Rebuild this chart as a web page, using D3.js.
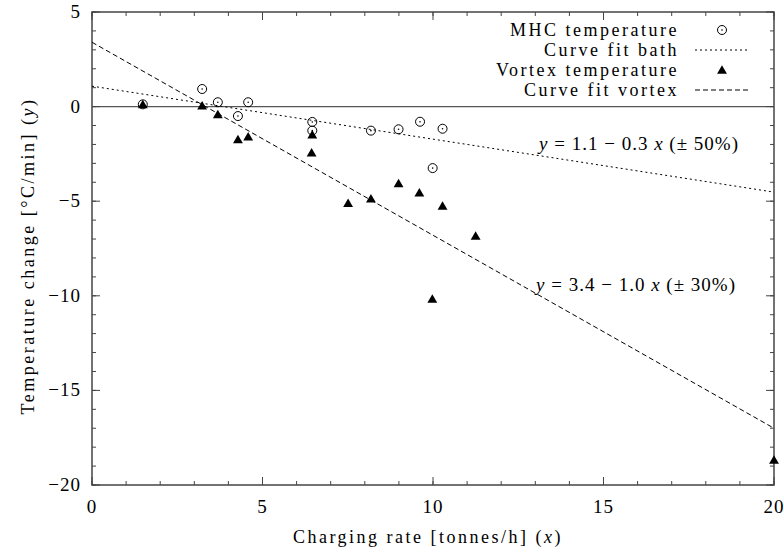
<!DOCTYPE html>
<html>
<head>
    <meta charset="UTF-8">
    <title>Temperature change vs charging rate</title>
    <script src="https://cdn.jsdelivr.net/npm/d3@7/dist/d3.min.js"></script>
    <style>
        body { margin: 0; background: #fff; }
        text { font-family: "Liberation Serif", "DejaVu Serif", serif; fill: #000; }
    </style>
</head>
<body>
<script>
    // MHC (bath) temperature readings
    var mhcX = [1.49, 3.23, 3.69, 4.28, 4.58, 6.46, 6.46, 8.18, 8.99, 9.62, 9.99, 10.28];
    var mhcY = [0.12, 0.93, 0.23, -0.5, 0.23, -0.81, -1.27, -1.27, -1.2, -0.8, -3.25, -1.17];

    // vortex temperature readings
    var vortexX = [1.49, 3.23, 3.69, 4.28, 4.58, 6.46, 6.44, 7.51, 8.18, 8.99, 9.6, 9.98, 10.28, 11.25, 20];
    var vortexY = [0.12, 0.05, -0.41, -1.73, -1.59, -1.48, -2.43, -5.11, -4.87, -4.06, -4.55, -10.17, -5.25, -6.84, -18.68];

    // fitted lines: y = a + b x
    var bathFit = [1.08, -0.28];
    var vortexFit = [3.4, -1.02];

    var xTicks = [0, 5, 10, 15, 20];
    var yTicks = [5, 0, -5, -10, -15, -20];

    var w = 784, h = 552;
    var margin = {top: 12, right: 10, bottom: 67, left: 92};
    var iw = w - margin.left - margin.right;
    var ih = h - margin.top - margin.bottom;

    var svg = d3.select("body").append("svg")
            .attr("width", w)
            .attr("height", h);

    var g = svg.append("g")
            .attr("transform", "translate(" + margin.left + "," + margin.top + ")");

    var x = d3.scaleLinear().domain([0, 20]).range([0, iw]);
    var y = d3.scaleLinear().domain([-20, 5]).range([ih, 0]);

    var axisColor = "#444";

    // zero line
    g.append("line")
            .attr("x1", 0).attr("x2", iw)
            .attr("y1", y(0)).attr("y2", y(0))
            .attr("stroke", "#555").attr("stroke-width", 1.2);

    // ticks on all four sides, pointing inward
    function ticks(values, len) {
        values.forEach(function (v) {
            g.append("line").attr("x1", x(v)).attr("x2", x(v)).attr("y1", ih).attr("y2", ih - len)
                    .attr("stroke", axisColor);
            g.append("line").attr("x1", x(v)).attr("x2", x(v)).attr("y1", 0).attr("y2", len)
                    .attr("stroke", axisColor);
        });
    }
    function yticks(values, len) {
        values.forEach(function (v) {
            g.append("line").attr("y1", y(v)).attr("y2", y(v)).attr("x1", 0).attr("x2", len)
                    .attr("stroke", axisColor);
            g.append("line").attr("y1", y(v)).attr("y2", y(v)).attr("x1", iw).attr("x2", iw - len)
                    .attr("stroke", axisColor);
        });
    }
    ticks(d3.range(0, 21, 1), 4);
    ticks(xTicks, 8);
    yticks(d3.range(-20, 6, 1), 4);
    yticks(yTicks, 8);

    // border
    g.append("rect")
            .attr("width", iw).attr("height", ih)
            .attr("fill", "none")
            .attr("stroke", axisColor).attr("stroke-width", 1.5);

    // tick labels
    g.selectAll(".xl").data(xTicks).enter().append("text")
            .attr("x", function (d) { return x(d); })
            .attr("y", ih + 28)
            .attr("text-anchor", "middle")
            .attr("font-size", 19)
            .attr("letter-spacing", 1)
            .text(function (d) { return d; });

    g.selectAll(".yl").data(yTicks).enter().append("text")
            .attr("x", -11)
            .attr("y", function (d) { return y(d) + 6; })
            .attr("text-anchor", "end")
            .attr("font-size", 19)
            .attr("letter-spacing", 1)
            .text(function (d) { return d < 0 ? "\u2212" + Math.abs(d) : d; });

    // axis titles
    var xt = svg.append("text")
            .attr("x", 428)
            .attr("y", h - 9)
            .attr("text-anchor", "middle")
            .attr("font-size", 18)
            .attr("letter-spacing", 2.5);
    xt.append("tspan").text("Charging rate [tonnes/h] (");
    xt.append("tspan").attr("font-style", "italic").text("x");
    xt.append("tspan").text(")");

    var yt = svg.append("text")
            .attr("transform", "translate(34,256) rotate(-90)")
            .attr("text-anchor", "middle")
            .attr("font-size", 18)
            .attr("letter-spacing", 2.5);
    yt.append("tspan").text("Temperature change [\u00B0C/min] (");
    yt.append("tspan").attr("font-style", "italic").text("y");
    yt.append("tspan").text(")");

    // fit lines
    function fitLine(p, dash) {
        g.append("line")
                .attr("x1", x(0)).attr("y1", y(p[0]))
                .attr("x2", x(20)).attr("y2", y(p[0] + p[1] * 20))
                .attr("stroke", "#000").attr("stroke-width", 1)
                .attr("stroke-dasharray", dash);
    }
    fitLine(bathFit, "2,3");
    fitLine(vortexFit, "5,3");

    // markers
    var tri = d3.symbol().type(d3.symbolTriangle).size(42);

    function circleMark(sel, cx, cy) {
        sel.append("circle").attr("cx", cx).attr("cy", cy).attr("r", 4.5)
                .attr("fill", "none").attr("stroke", "#000").attr("stroke-width", 1);
        sel.append("circle").attr("cx", cx).attr("cy", cy).attr("r", 0.8)
                .attr("fill", "#000");
    }

    mhcX.forEach(function (d, i) {
        circleMark(g, x(d), y(mhcY[i]));
    });

    g.selectAll(".vt").data(vortexX).enter().append("path")
            .attr("d", tri)
            .attr("transform", function (d, i) {
                return "translate(" + x(d) + "," + (y(vortexY[i]) + 1) + ")";
            })
            .attr("fill", "#000");

    // fit equations
    function equation(tx, ty, a, b, err) {
        var t = svg.append("text")
                .attr("x", tx).attr("y", ty)
                .attr("text-anchor", "end")
                .attr("font-size", 19)
                .attr("letter-spacing", 1);
        t.append("tspan").attr("font-style", "italic").text("y");
        t.append("tspan").text(" = " + a + " \u2212 " + b + " ");
        t.append("tspan").attr("font-style", "italic").text("x");
        t.append("tspan").text(" (\u00B1 " + err + "%)");
    }
    equation(739, 150, "1.1", "0.3", 50);
    equation(736, 291, "3.4", "1.0", 30);

    // legend
    var legend = [
        {label: "MHC temperature", kind: "circle"},
        {label: "Curve fit bath", kind: "dot"},
        {label: "Vortex temperature", kind: "tri"},
        {label: "Curve fit vortex", kind: "dash"}
    ];
    var lg = svg.append("g");
    legend.forEach(function (d, i) {
        var ly = 30 + i * 20;
        lg.append("text")
                .attr("x", 679).attr("y", ly + 6)
                .attr("text-anchor", "end")
                .attr("font-size", 18)
                .attr("letter-spacing", 2.5)
                .text(d.label);
        if (d.kind === "circle") circleMark(lg, 722, ly);
        if (d.kind === "tri") lg.append("path").attr("d", tri)
                .attr("transform", "translate(722," + (ly + 1) + ")").attr("fill", "#000");
        if (d.kind === "dot") lg.append("line").attr("x1", 695).attr("x2", 750)
                .attr("y1", ly).attr("y2", ly).attr("stroke", "#000").attr("stroke-dasharray", "2,3");
        if (d.kind === "dash") lg.append("line").attr("x1", 695).attr("x2", 750)
                .attr("y1", ly).attr("y2", ly).attr("stroke", "#000").attr("stroke-dasharray", "5,3");
    });
</script>
</body>
</html>
